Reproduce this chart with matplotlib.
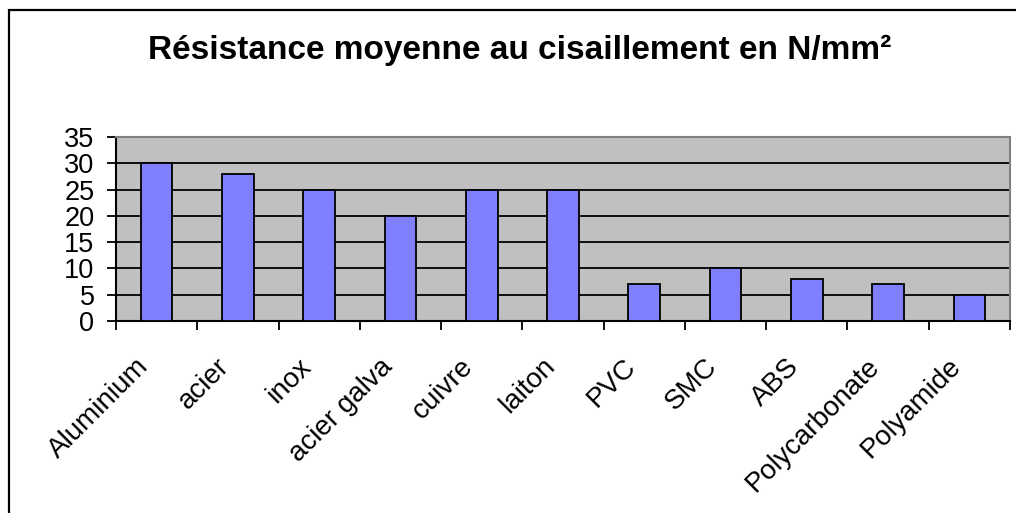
import matplotlib
matplotlib.use('Agg')
import matplotlib.pyplot as plt
import matplotlib.transforms as mtransforms
from matplotlib.patches import Rectangle

categories = ['Aluminium', 'acier', 'inox', 'acier galva', 'cuivre', 'laiton',
              'PVC', 'SMC', 'ABS', 'Polycarbonate', 'Polyamide']
values = [30, 28, 25, 20, 25, 25, 7, 10, 8, 7, 5]
yticks = [0, 5, 10, 15, 20, 25, 30, 35]
title = 'Résistance moyenne au cisaillement en N/mm²'

plt.rcParams['font.family'] = ['Liberation Sans', 'DejaVu Sans']

W, H = 1016, 513
fig = plt.figure(figsize=(W / 100, H / 100), dpi=100)
ax = fig.add_axes([116 / W, 1 - 321 / H, (1010 - 116) / W, (321 - 137) / H])
ax.set_facecolor('#C0C0C0')

x = list(range(len(categories)))
ax.bar(x, values, width=0.39, color='#8080FF', edgecolor='black', linewidth=1.3, zorder=3)
ax.set_xlim(-0.5, len(categories) - 0.5)
ax.set_ylim(0, 35)
ax.set_yticks(yticks)
ax.set_yticklabels([str(v) for v in yticks], fontsize=19.5)
ax.yaxis.grid(True, color='black', linewidth=1.3)
ax.set_axisbelow(True)

ax.set_xticks([i - 0.5 for i in range(len(categories) + 1)])
ax.set_xticklabels([])
ax.set_xticks(x, minor=True)
ax.set_xticklabels(categories, minor=True, rotation=45, ha='right', va='center',
                   rotation_mode='anchor', fontsize=20)
ax.tick_params(axis='x', which='minor', length=0, pad=30)
ax.tick_params(axis='x', which='major', length=6.5, width=1.3, direction='out', color='black')
ax.tick_params(axis='y', length=6.5, width=1.3, direction='out', pad=9, color='black')

off = mtransforms.ScaledTranslation(-12 / 100, 0, fig.dpi_scale_trans)
for lbl in ax.get_xticklabels(minor=True):
    lbl.set_transform(lbl.get_transform() + off)

for s in ['left', 'bottom']:
    ax.spines[s].set_color('black')
    ax.spines[s].set_linewidth(1.5)
for s in ['top', 'right']:
    ax.spines[s].set_color('#808080')
    ax.spines[s].set_linewidth(1.5)

fig.suptitle(title, x=520 / W, y=1 - 50 / H, ha='center', va='center',
             fontsize=24, fontweight='bold')

fig.patches.append(Rectangle((9 / W, -0.1), 1.2, 1 - 10 / H + 0.1, transform=fig.transFigure,
                             fill=False, edgecolor='black', linewidth=1.6))

fig.savefig('out.png', dpi=100)
